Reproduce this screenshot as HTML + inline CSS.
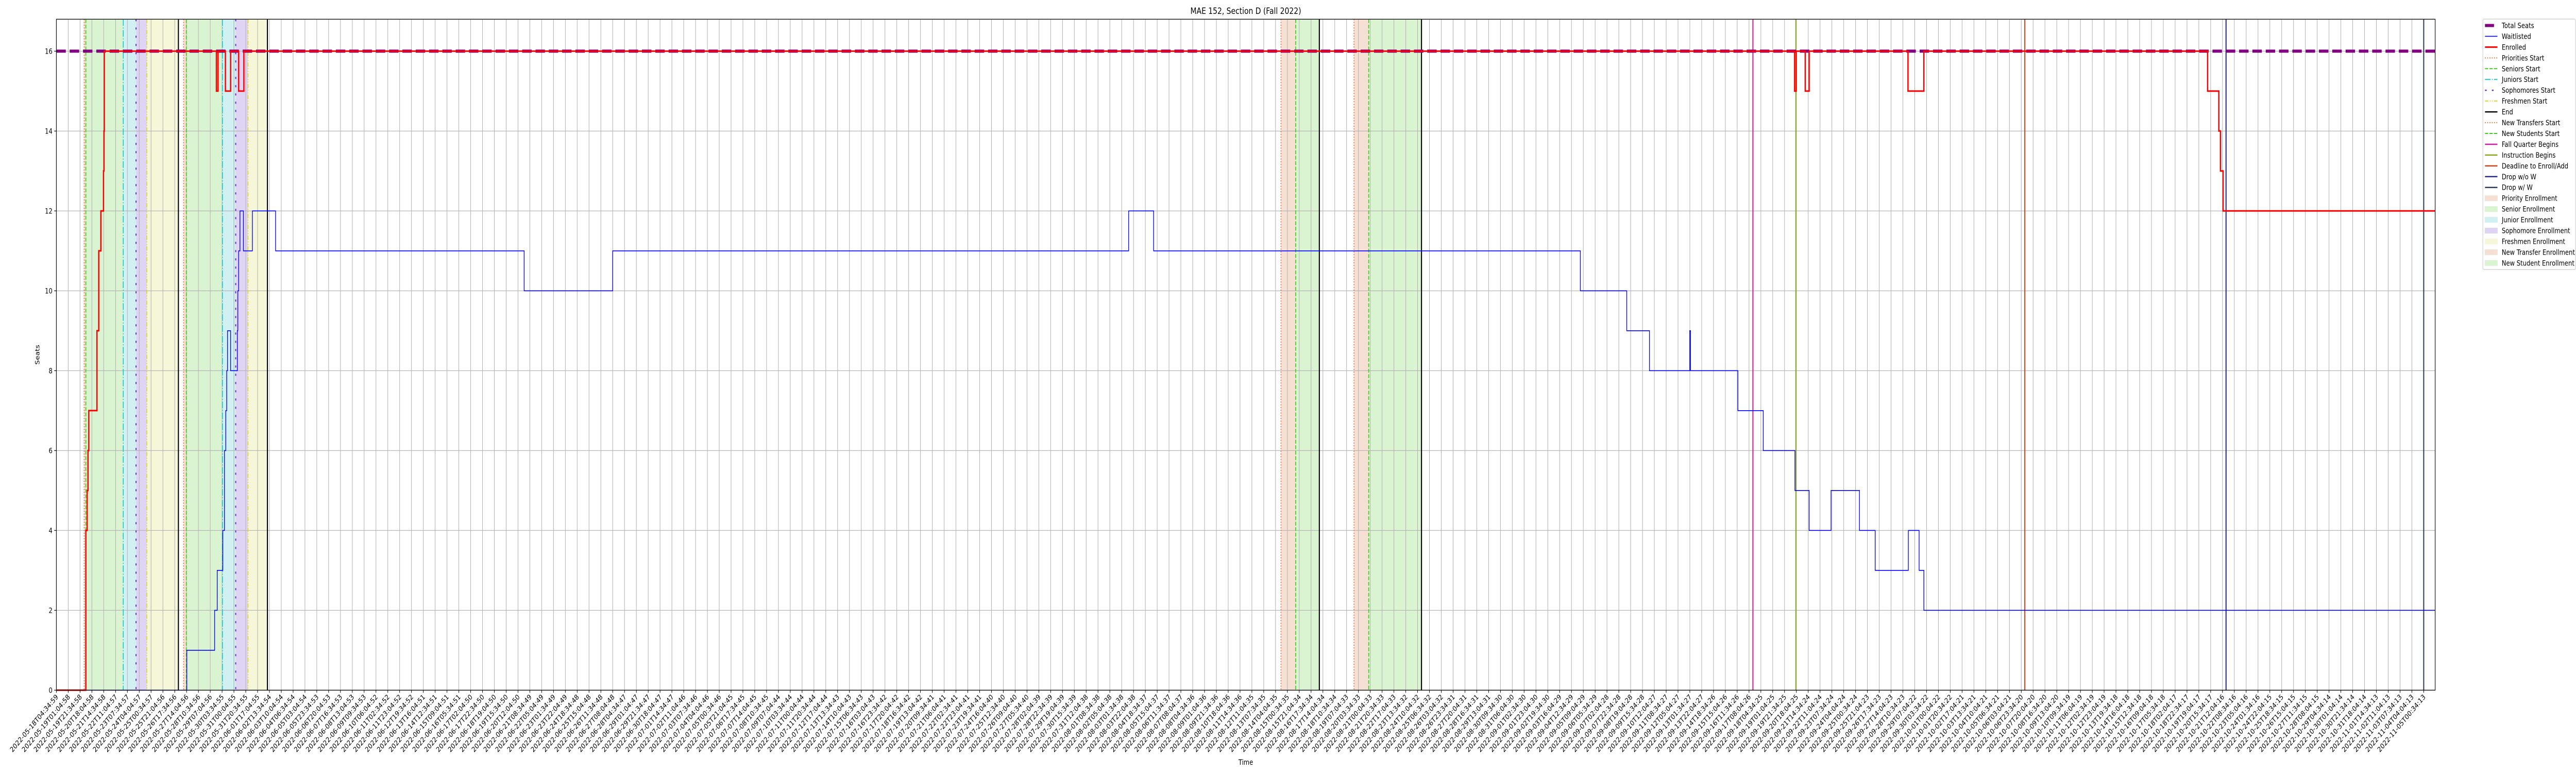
<!DOCTYPE html>
<html><head><meta charset="utf-8"><style>
html,body{margin:0;padding:0;background:#fff;overflow:hidden;width:100vw;height:100vh;}
svg{display:block;width:100vw;height:100vh;font-family:"DejaVu Sans","Liberation Sans",sans-serif;}
</style></head><body>
<svg id="chart" viewBox="0 0 6000 1500" preserveAspectRatio="none" xmlns="http://www.w3.org/2000/svg">
<rect width="6000" height="1500" fill="#fff"/>
<g id="shade"></g><g id="grid"></g><g id="vlines"></g><g id="series"></g><g id="axes"></g><g id="legend"></g>
</svg>
<script>
// ---- data (x in tick-index units, y in seats) ----
const totalSeats = 16;
const enrolledX = [0, 2.49, 2.60, 2.67, 2.74, 3.43, 3.58, 3.76, 3.98, 4.02, 4.05, 13.52, 13.66, 14.28, 14.72, 15.40, 15.84, 146.85, 146.99, 147.75, 148.08, 156.43, 157.77, 181.74, 182.69, 182.83, 183.05];
const enrolledY = [0, 4, 5, 6, 7, 9, 11, 12, 13, 14, 16, 15, 16, 15, 16, 15, 16, 15, 16, 15, 16, 15, 16, 15, 14, 13, 12];
const waitX = [0, 11.02, 13.37, 13.59, 14.06, 14.20, 14.31, 14.39, 14.46, 14.72, 15.29, 15.33, 15.40, 15.51, 15.80, 16.56, 18.52, 39.52, 47.00, 90.59, 92.70, 128.75, 132.67, 134.59, 137.99, 138.06, 142.06, 144.20, 146.88, 148.08, 149.93, 152.33, 153.66, 156.46, 157.37, 157.77];
const waitY = [0, 1, 2, 3, 4, 6, 7, 8, 9, 8, 9, 10, 11, 12, 11, 12, 11, 10, 11, 12, 11, 10, 9, 8, 9, 8, 7, 6, 5, 4, 5, 4, 3, 4, 3, 2];
const periodStarts = [[2.35, 2.49, 5.65, 6.73, 7.64, 10.31], [10.75, 10.98, 14.03, 15.15, 16.19, 17.83]];
const transferStarts = [[103.46, 104.70, 106.70], [109.63, 110.87, 115.33]];
const eventNames = ["Fall Quarter Begins", "Instruction Begins", "Deadline to Enroll/Add", "Drop w/o W", "Drop w/ W"];
const eventX = [143.33, 146.96, 166.3, 183.3, 200];
const yTicks = [0, 2, 4, 6, 8, 10, 12, 14, 16];
const tickStart = "2022-05-18T04:34:59";
const tickEnd = "2022-11-05T00:34:13";
const tickCount = 201;

// ---- layout ----
const L = 131.3, R = 5672, T = 37.3, B = 1339.3;
const xMax = (R - L) / 27.57, yMax = 16.8;
const sx = v => L + v / xMax * (R - L);
const sy = v => B - v / yMax * (B - T);
const NS = "http://www.w3.org/2000/svg";
function mk(tag, attrs, parent) {
  const e = document.createElementNS(NS, tag);
  for (const k in attrs) e.setAttribute(k, attrs[k]);
  if (parent) parent.appendChild(e);
  return e;
}
const gShade = document.getElementById('shade'), gGrid = document.getElementById('grid'),
  gV = document.getElementById('vlines'), gS = document.getElementById('series'),
  gA = document.getElementById('axes'), gL = document.getElementById('legend');

const C = {
  prio: '#f6e0d4', sen: '#daf4d2', jun: '#d0f0f2', soph: '#e0d4f4', fresh: '#f6f6d8',
  prioL: '#ee6a2e', senL: '#3ccf1a', junL: '#1ac8d4', sophL: '#6a2ed4', freshL: '#d8d830'
};
const shadeCols = [C.prio, C.sen, C.jun, C.soph, C.fresh];
const shadeNames = ['priority-enrollment', 'senior-enrollment', 'junior-enrollment', 'sophomore-enrollment', 'freshmen-enrollment'];
const lineStyles = [
  {c: C.prioL, d: '2,3.3', w: 2},
  {c: C.senL, d: '7.4,3.2', w: 2},
  {c: C.junL, d: '12.8,3.2,2,3.2', w: 2},
  {c: C.sophL, d: '4,12', w: 2.5},
  {c: C.freshL, d: '8,3,2,3,2,3', w: 2},
  {c: '#000', d: '', w: 2.5}
];
periodStarts.forEach(p => {
  for (let i = 0; i < 5; i++) {
    const r = mk('rect', {x: sx(p[i]), y: T, width: sx(p[i + 1]) - sx(p[i]), height: B - T, fill: shadeCols[i]}, gShade);
    
    
  }
});
transferStarts.forEach(p => {
  const r1 = mk('rect', {x: sx(p[0]), y: T, width: sx(p[1]) - sx(p[0]), height: B - T, fill: C.prio}, gShade);
  
  
  const r2 = mk('rect', {x: sx(p[1]), y: T, width: sx(p[2]) - sx(p[1]), height: B - T, fill: C.sen}, gShade);
  
  
});
for (let i = 0; i < tickCount; i++) {
  mk('line', {x1: sx(i), x2: sx(i), y1: T, y2: B, stroke: '#b0b0b0', 'stroke-width': 1.2}, gGrid);
}
yTicks.forEach(v => mk('line', {x1: L, x2: R, y1: sy(v), y2: sy(v), stroke: '#b0b0b0', 'stroke-width': 1.2}, gGrid));
const lineNames = ['priorities-start', 'seniors-start', 'juniors-start', 'sophomores-start', 'freshmen-start', 'end'];
periodStarts.forEach(p => {
  p.forEach((v, i) => {
    const s = lineStyles[i];
    const l = mk('line', {x1: sx(v), x2: sx(v), y1: T, y2: B, stroke: s.c, 'stroke-width': s.w, 'stroke-dasharray': s.d}, gV);
    
    
  });
});
transferStarts.forEach(p => {
  [0, 1, 5].forEach((si, j) => {
    const s = lineStyles[si];
    const l = mk('line', {x1: sx(p[j]), x2: sx(p[j]), y1: T, y2: B, stroke: s.c, 'stroke-width': s.w, 'stroke-dasharray': s.d}, gV);
    
    
  });
});
const eventCols = ['#d81ba0', '#8aa61a', '#d04418', '#2a2a8a', '#2e3e5e'];
eventX.forEach((v, i) => {
  const l = mk('line', {x1: sx(v), x2: sx(v), y1: T, y2: B, stroke: eventCols[i], 'stroke-width': 2.5}, gV);
  
  
});
function stepPath(xs, ys) {
  let d = `M${sx(xs[0])},${sy(ys[0])}`;
  for (let i = 1; i < xs.length; i++) d += ` H${sx(xs[i])} V${sy(ys[i])}`;
  d += ` H${R}`;
  return d;
}
const ts = mk('line', {x1: L, x2: R, y1: sy(totalSeats), y2: sy(totalSeats), stroke: '#800080', 'stroke-width': 6, 'stroke-dasharray': '22,9'}, gS);


const wl = mk('path', {d: stepPath(waitX, waitY), fill: 'none', stroke: '#0000ff', 'stroke-width': 1.6}, gS);


const en = mk('path', {d: stepPath(enrolledX, enrolledY), fill: 'none', stroke: '#ff0000', 'stroke-width': 3}, gS);


mk('rect', {x: L, y: T, width: R - L, height: B - T, fill: 'none', stroke: '#000', 'stroke-width': 1.3}, gA);
yTicks.forEach(v => {
  mk('line', {x1: L - 5, x2: L, y1: sy(v), y2: sy(v), stroke: '#000', 'stroke-width': 1.2}, gA);
  const t = mk('text', {x: L - 9, y: sy(v) + 5, 'text-anchor': 'end', 'font-size': 13.9, fill: '#000'}, gA);
  t.textContent = v;
  
  
});
const t0 = Date.parse(tickStart + 'Z'), t1 = Date.parse(tickEnd + 'Z');
const tickLabels = [];
for (let i = 0; i < tickCount; i++) tickLabels.push(new Date(t0 + (t1 - t0) * i / (tickCount - 1)).toISOString().slice(0, 19));
tickLabels.forEach((s, i) => {
  const x = sx(i);
  mk('line', {x1: x, x2: x, y1: B, y2: B + 5, stroke: '#000', 'stroke-width': 1.2}, gA);
  const t = mk('text', {x: 0, y: 0, 'text-anchor': 'end', 'font-size': 13.9, fill: '#000',
    transform: `translate(${x + 5},${B + 14}) rotate(-45)`}, gA);
  t.textContent = s;
  
  
});
const title = mk('text', {x: (L + R) / 2, y: 27, 'text-anchor': 'middle', 'font-size': 16.7, fill: '#000'}, gA);
title.textContent = 'MAE 152, Section D (Fall 2022)';


const xl = mk('text', {x: (L + R) / 2, y: 1484, 'text-anchor': 'middle', 'font-size': 13.9, fill: '#000'}, gA);
xl.textContent = 'Time';


const yl = mk('text', {x: 0, y: 0, 'text-anchor': 'middle', 'font-size': 13.9, fill: '#000', transform: `translate(92,${(T + B) / 2}) rotate(-90)`}, gA);
yl.textContent = 'Seats';


mk('rect', {x: 5783, y: 37, width: 216, height: 486, rx: 3, fill: '#fff', stroke: '#ccc', 'stroke-width': 1.2}, gL);
const legItems = [
  ['Total Seats', 'line', '#800080', '', 6, 'short'],
  ['Waitlisted', 'line', '#0000ff', '', 1.6],
  ['Enrolled', 'line', '#ff0000', '', 3],
  ['Priorities Start', 'line', C.prioL, '2,3.3', 2],
  ['Seniors Start', 'line', C.senL, '7.4,3.2', 2],
  ['Juniors Start', 'line', C.junL, '12.8,3.2,2,3.2', 2],
  ['Sophomores Start', 'line', C.sophL, '4,12', 2.5],
  ['Freshmen Start', 'line', C.freshL, '8,3,2,3,2,3', 2],
  ['End', 'line', '#000', '', 2.5],
  ['New Transfers Start', 'line', C.prioL, '2,3.3', 2],
  ['New Students Start', 'line', C.senL, '7.4,3.2', 2],
  ['Fall Quarter Begins', 'line', eventCols[0], '', 2.5],
  ['Instruction Begins', 'line', eventCols[1], '', 2.5],
  ['Deadline to Enroll/Add', 'line', eventCols[2], '', 2.5],
  ['Drop w/o W', 'line', eventCols[3], '', 2.5],
  ['Drop w/ W', 'line', eventCols[4], '', 2.5],
  ['Priority Enrollment', 'patch', C.prio],
  ['Senior Enrollment', 'patch', C.sen],
  ['Junior Enrollment', 'patch', C.jun],
  ['Sophomore Enrollment', 'patch', C.soph],
  ['Freshmen Enrollment', 'patch', C.fresh],
  ['New Transfer Enrollment', 'patch', C.prio],
  ['New Student Enrollment', 'patch', C.sen]
];
legItems.forEach((it, i) => {
  const y = 49.5 + i * 20.95;
  const g = mk('g', {}, gL);
  
  
  if (it[1] === 'line') {
    mk('line', {x1: 5788, x2: it[5] ? 5809 : 5817, y1: y, y2: y, stroke: it[2], 'stroke-width': it[4], 'stroke-dasharray': it[3]}, g);
  } else {
    mk('rect', {x: 5788, y: y - 5, width: 29, height: 10, fill: it[2], stroke: it[2], 'stroke-width': 1}, g);
  }
  const t = mk('text', {x: 5827, y: y + 5, 'font-size': 13.9, fill: '#000'}, g);
  t.textContent = it[0];
});
</script>
</body></html>
